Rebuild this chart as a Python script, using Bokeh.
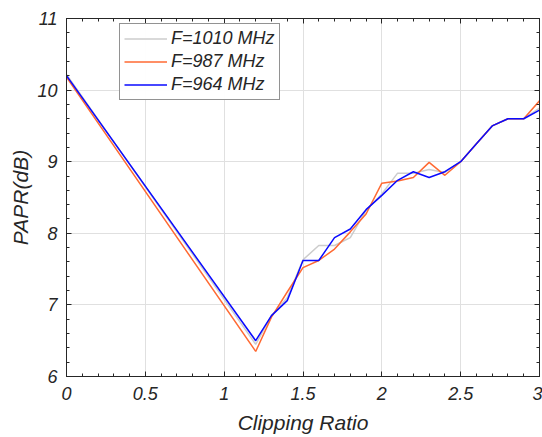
from bokeh.plotting import figure
from bokeh.models import LinearAxis, Range1d, FixedTicker, Legend, LegendItem
from bokeh.embed import file_html
from bokeh.resources import INLINE

x = [0, 1.2, 1.3, 1.4, 1.5, 1.6, 1.7, 1.8, 1.9, 2.0, 2.1, 2.2, 2.3, 2.4, 2.5, 2.6, 2.7, 2.8, 2.9, 3.0]
papr_1010 = [10.22, 6.45, 6.85, 7.1, 7.63, 7.83, 7.83, 7.94, 8.32, 8.55, 8.84, 8.84, 8.89, 8.85, 9.0, 9.25, 9.5, 9.6, 9.6, 9.75]
papr_987 = [10.18, 6.35, 6.83, 7.18, 7.52, 7.62, 7.78, 8.02, 8.27, 8.7, 8.73, 8.78, 8.99, 8.81, 9.0, 9.25, 9.5, 9.6, 9.6, 9.85]
papr_964 = [10.2, 6.5, 6.85, 7.06, 7.62, 7.62, 7.94, 8.06, 8.33, 8.53, 8.74, 8.86, 8.78, 8.86, 9.0, 9.25, 9.5, 9.6, 9.6, 9.72]
labels = ["F=1010 MHz", "F=987 MHz", "F=964 MHz"]
colors = ["#cccccc", "#ff6a33", "#0a0aff"]

x_ticks = [0, 0.5, 1, 1.5, 2, 2.5, 3]
y_ticks = [6, 7, 8, 9, 10, 11]

FONT = "Liberation Sans"
TXT = "#262626"

p = figure(width=542, height=437, output_backend="svg", toolbar_location=None,
           x_range=Range1d(0, 3), y_range=Range1d(6, 11),
           min_border_left=66, min_border_right=3, min_border_top=18, min_border_bottom=61)
p.background_fill_color = "white"
p.border_fill_color = "white"
p.outline_line_color = TXT
p.outline_line_width = 1

def style_axis(ax, show_labels=True):
    ax.major_tick_in = 5
    ax.major_tick_out = 0
    ax.minor_tick_in = 3
    ax.minor_tick_out = 0
    ax.axis_line_color = TXT
    ax.major_tick_line_color = TXT
    ax.minor_tick_line_color = TXT
    ax.major_label_text_font = FONT
    ax.major_label_text_font_style = "italic"
    ax.major_label_text_font_size = "18px"
    ax.major_label_text_color = TXT
    ax.axis_label_text_font = FONT
    ax.axis_label_text_font_style = "italic"
    ax.axis_label_text_font_size = "21px"
    ax.axis_label_text_color = TXT
    if not show_labels:
        ax.major_label_text_font_size = "0px"
        ax.major_label_text_alpha = 0

p.xaxis.ticker = FixedTicker(ticks=x_ticks, minor_ticks=[i / 10 for i in range(31)])
p.yaxis.ticker = FixedTicker(ticks=y_ticks, minor_ticks=[6 + i / 5 for i in range(26)])
p.xaxis.axis_label = "Clipping Ratio"
p.yaxis.axis_label = "PAPR(dB)"
style_axis(p.xaxis[0])
style_axis(p.yaxis[0])
p.xaxis.major_label_standoff = 10
p.yaxis.major_label_standoff = 9
p.xaxis.axis_label_standoff = 8
p.yaxis.axis_label_standoff = 2

top = LinearAxis(ticker=FixedTicker(ticks=x_ticks, minor_ticks=[i / 10 for i in range(31)]))
right = LinearAxis(ticker=FixedTicker(ticks=y_ticks, minor_ticks=[6 + i / 5 for i in range(26)]))
style_axis(top, False)
style_axis(right, False)
top.major_label_standoff = 0
right.major_label_standoff = 0
p.add_layout(top, "above")
p.add_layout(right, "right")

p.xgrid.ticker = FixedTicker(ticks=x_ticks)
p.ygrid.ticker = FixedTicker(ticks=y_ticks)
p.grid.grid_line_color = "#e0e0e0"
p.grid.grid_line_width = 1

r1 = p.line(x, papr_1010, line_color=colors[0], line_width=1.5)
r2 = p.line(x, papr_987, line_color=colors[1], line_width=1.5)
r3 = p.line(x, papr_964, line_color=colors[2], line_width=1.5)

legend = Legend(items=[LegendItem(label=labels[0], renderers=[r1]),
                       LegendItem(label=labels[1], renderers=[r2]),
                       LegendItem(label=labels[2], renderers=[r3])],
                location=(53, 276))
legend.label_text_font = FONT
legend.label_text_font_style = "italic"
legend.label_text_font_size = "18px"
legend.label_text_color = TXT
legend.border_line_color = TXT
legend.border_line_width = 1
legend.glyph_width = 43
legend.glyph_height = 21
legend.label_height = 21
legend.spacing = 2
legend.padding = 4
legend.margin = 0
legend.label_standoff = 4
p.add_layout(legend, "center")

open("out.html", "w").write(file_html(p, INLINE))
